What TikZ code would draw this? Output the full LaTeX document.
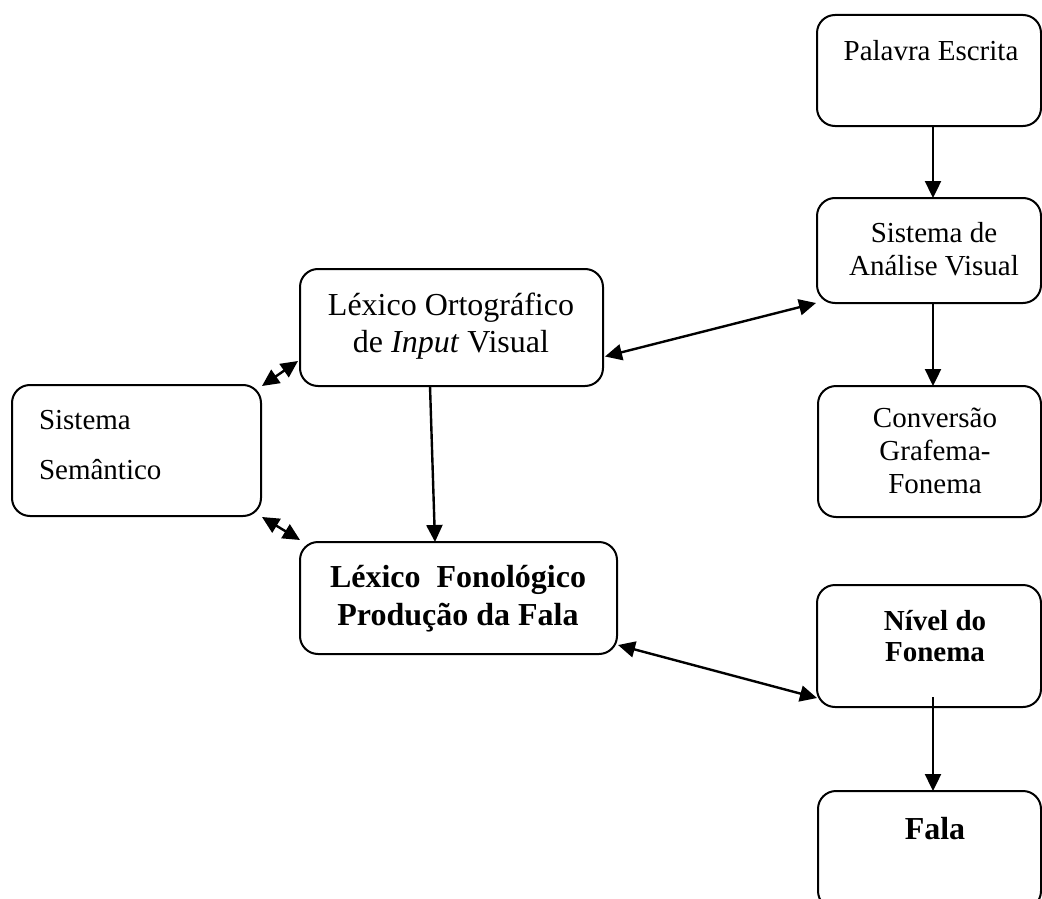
\documentclass[tikz,border=0pt]{standalone}
\usepackage{fontspec}
\setmainfont{Liberation Serif}
\usetikzlibrary{arrows.meta}
\tikzset{
  box/.style={draw, line width=2pt, rounded corners=18pt, inner sep=0pt, outer sep=0pt},
  txt/.style={inner sep=0pt, outer sep=0pt, align=center, anchor=north},
  conn/.style={line width=2.4pt, -{Triangle[length=17pt,width=16pt]}},
  bconn/.style={line width=2.4pt, {Triangle[length=17pt,width=16pt]}-{Triangle[length=17pt,width=16pt]}},
  fA/.style={font=\fontsize{29}{33}\selectfont},
  fB/.style={font=\fontsize{32}{37}\selectfont},
}
\begin{document}
\begin{tikzpicture}[x=1pt,y=-1pt]
\useasboundingbox (0,0) rectangle (1042,899);
% boxes
\node[box, minimum width=224pt, minimum height=111pt] (pal) at (929,70.5) {};
\node[box, minimum width=224pt, minimum height=105pt] (sav) at (929,250.5) {};
\node[box, minimum width=223pt, minimum height=131pt] (cgf) at (929.5,451.5) {};
\node[box, minimum width=303pt, minimum height=117pt] (lo) at (451.5,327.5) {};
\node[box, minimum width=249pt, minimum height=131pt] (sem) at (136.5,450.5) {};
\node[box, minimum width=317pt, minimum height=112pt] (lf) at (458.5,598) {};
\node[box, minimum width=224pt, minimum height=122pt] (nf) at (929,646) {};
\node[box, minimum width=223pt, minimum height=118pt] (fala) at (929.5,850) {};
% texts
\node[txt, fA] (palT) at (931,40) {Palavra Escrita};
\node[txt, fA] (savT) at (934,222) {Sistema de\\Análise Visual};
\node[txt, fA] (cgfT) at (935,408) {Conversão\\Grafema-\\Fonema};
\node[txt, fB] (loT) at (451,293) {Léxico Ortográfico\\de \textit{Input} Visual};
\node[txt, font=\fontsize{29}{50}\selectfont, align=left, anchor=north west] (semT) at (39,410) {Sistema\\Semântico};
\node[txt, font=\fontsize{32}{38}\selectfont\bfseries] (lfT) at (458,565) {Léxico\ \ Fonológico\\Produção da Fala};
\node[txt, font=\fontsize{29}{31}\selectfont\bfseries] (nfT) at (935,610) {Nível do\\Fonema};
\node[txt, font=\fontsize{32}{37}\selectfont\bfseries] (falaT) at (935,817) {Fala};
% connectors
\draw[conn] ([xshift=4pt]pal.south) -- ([xshift=4pt]sav.north);
\draw[conn] ([xshift=4pt]sav.south) -- ([xshift=3.5pt]cgf.north);
\draw[bconn] ([shift={(2pt,-29pt)}]lo.east) -- ([shift={(-1pt,0pt)}]sav.south west);
\draw[conn] ([xshift=-21.5pt]lo.south) -- ([xshift=-23.5pt]lf.north);
\draw[bconn] ([shift={(1pt,-1pt)}]sem.north east) -- ([shift={(-2pt,25pt)}]lo.south west);
\draw[bconn] ([shift={(1pt,-1pt)}]sem.south east) -- ([shift={(0pt,2pt)}]lf.north west);
\draw[bconn] ([shift={(1pt,9pt)}]lf.south east) -- ([shift={(0pt,9pt)}]nf.south west);
\draw[conn] ([xshift=4pt,yshift=10pt]nf.south) -- ([xshift=3.5pt]fala.north);
\end{tikzpicture}
\end{document}
